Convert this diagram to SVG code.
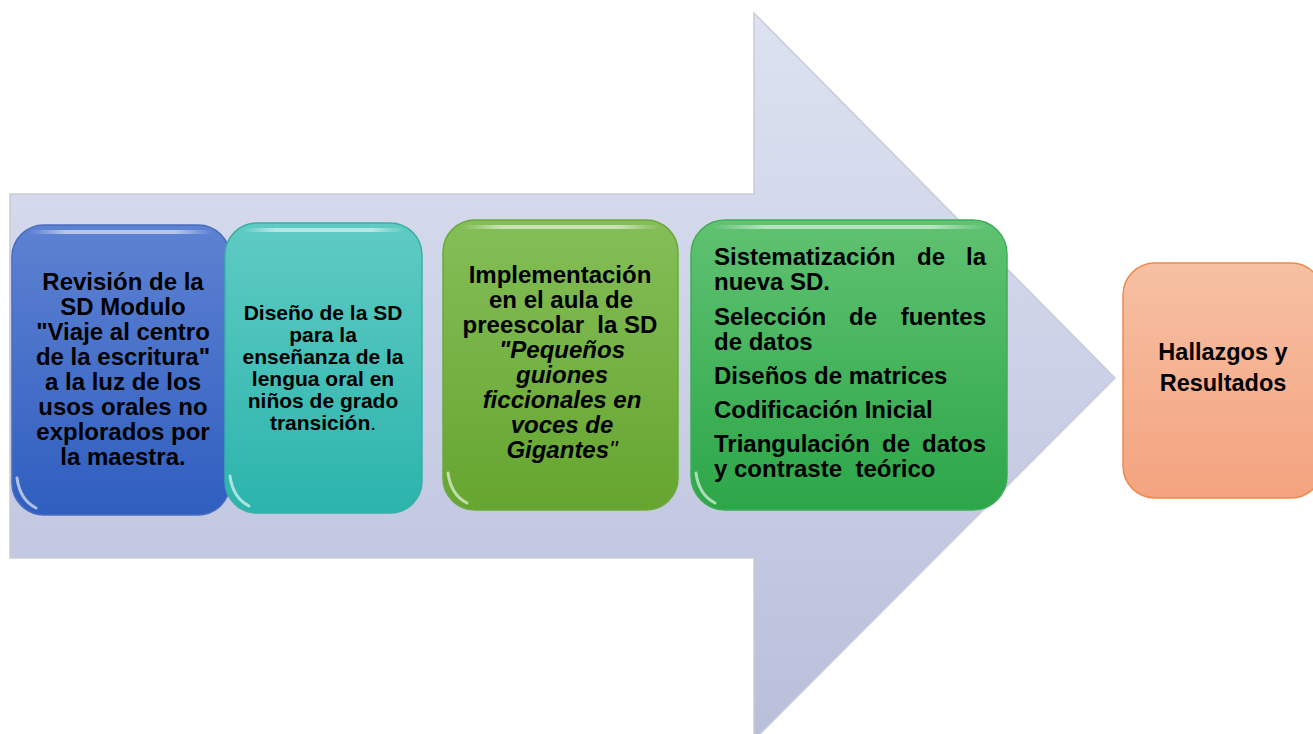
<svg xmlns="http://www.w3.org/2000/svg" width="1313" height="734" viewBox="0 0 1313 734">
<defs>
<linearGradient id="gArrow" x1="0" y1="0" x2="0" y2="1">
<stop offset="0" stop-color="#DDE2F1"/><stop offset="1" stop-color="#B9BFDB"/>
</linearGradient>
<linearGradient id="gBlue" x1="0" y1="0" x2="0" y2="1">
<stop offset="0" stop-color="#5E82D2"/><stop offset="1" stop-color="#2F5EBF"/>
</linearGradient>
<linearGradient id="gTeal" x1="0" y1="0" x2="0" y2="1">
<stop offset="0" stop-color="#5FCBC3"/><stop offset="1" stop-color="#2BB4AC"/>
</linearGradient>
<linearGradient id="gLime" x1="0" y1="0" x2="0" y2="1">
<stop offset="0" stop-color="#84BE58"/><stop offset="1" stop-color="#66A52F"/>
</linearGradient>
<linearGradient id="gGreen" x1="0" y1="0" x2="0" y2="1">
<stop offset="0" stop-color="#60C272"/><stop offset="1" stop-color="#2CA648"/>
</linearGradient>
<linearGradient id="gOrange" x1="0" y1="0" x2="0" y2="1">
<stop offset="0" stop-color="#F6C0A3"/><stop offset="1" stop-color="#F4A37F"/>
</linearGradient>
<linearGradient id="gShine" x1="0" y1="0" x2="1" y2="0">
<stop offset="0" stop-color="#FFFFFF" stop-opacity="0"/>
<stop offset="0.2" stop-color="#FFFFFF" stop-opacity="0.55"/>
<stop offset="0.8" stop-color="#FFFFFF" stop-opacity="0.55"/>
<stop offset="1" stop-color="#FFFFFF" stop-opacity="0"/>
</linearGradient>
</defs>
<style>
.t{font-family:"Liberation Sans",Arial,sans-serif;font-weight:bold;fill:#000;}
.c{text-anchor:middle;}
.m{text-anchor:middle;}
.e{text-anchor:end;}
.i{font-style:italic;}
.box{stroke-width:1.5;}
.shine{fill:url(#gShine);}
.arc{fill:none;stroke:#FFFFFF;stroke-width:3;stroke-opacity:0.6;stroke-linecap:round;}
</style>
<rect width="1313" height="734" fill="#FFFFFF"/>
<g id="connectors">
<path d="M10,194 L754,194 L754,13 L1115,378 L754,740 L754,558 L10,558 Z" fill="url(#gArrow)" stroke="#C9CCD8" stroke-width="1.5"/>
</g>
<g id="node1" class="t c" font-size="24">
<rect class="box" x="12" y="225" width="218" height="290" rx="32" fill="url(#gBlue)" stroke="#4A6CC0"/>
<rect class="shine" x="30" y="230" width="182" height="4" rx="2"/>
<path class="arc" d="M17,478 Q20,500 36,508"/>
<text x="123" y="290">Revisión de la</text>
<text x="123" y="315">SD Modulo</text>
<text x="123" y="340">"Viaje al centro</text>
<text x="123" y="365">de la escritura"</text>
<text x="123" y="390">a la luz de los</text>
<text x="123" y="415">usos orales no</text>
<text x="123" y="440">explorados por</text>
<text x="123" y="465">la maestra.</text>
</g>
<g id="node2" class="t c" font-size="21">
<rect class="box" x="225" y="223" width="197" height="290" rx="32" fill="url(#gTeal)" stroke="#3AAFA8"/>
<rect class="shine" x="243" y="228" width="161" height="4" rx="2"/>
<path class="arc" d="M230,476 Q233,498 249,506"/>
<text x="323" y="320">Diseño de la SD</text>
<text x="323" y="342">para la</text>
<text x="323" y="364">enseñanza de la</text>
<text x="323" y="386">lengua oral en</text>
<text x="323" y="408">niños de grado</text>
<text x="323" y="430">transición<tspan font-weight="normal">.</tspan></text>
</g>
<g id="node3" class="t c" font-size="24">
<rect class="box" x="443" y="220" width="235" height="290" rx="32" fill="url(#gLime)" stroke="#6CA93A"/>
<rect class="shine" x="461" y="225" width="199" height="4" rx="2"/>
<path class="arc" d="M448,473 Q451,495 467,503"/>
<text x="560" y="283">Implementación</text>
<text x="561" y="308">en el aula de</text>
<text x="560" y="333">preescolar&#160; la SD</text>
<text class="i" x="562" y="358">"Pequeños</text>
<text class="i" x="562" y="383">guiones</text>
<text class="i" x="562" y="408">ficcionales en</text>
<text class="i" x="562" y="433">voces de</text>
<text class="i" x="562" y="458">Gigantes<tspan font-weight="normal">"</tspan></text>
</g>
<g id="node4" class="t" font-size="24">
<rect class="box" x="691" y="220" width="316" height="290" rx="34" fill="url(#gGreen)" stroke="#3DAE57"/>
<rect class="shine" x="711" y="225" width="276" height="4" rx="2"/>
<path class="arc" d="M696,473 Q699,495 715,503"/>
<text x="714" y="265">Sistematización</text>
<text class="m" x="931" y="265">de</text>
<text class="e" x="986" y="265">la</text>
<text x="714" y="290">nueva SD.</text>
<text x="714" y="325">Selección</text>
<text class="m" x="863" y="325">de</text>
<text class="e" x="986" y="325">fuentes</text>
<text x="714" y="350">de datos</text>
<text x="714" y="384">Diseños de matrices</text>
<text x="714" y="418">Codificación Inicial</text>
<text x="714" y="452">Triangulación</text>
<text class="m" x="896" y="452">de</text>
<text class="e" x="986" y="452">datos</text>
<text x="714" y="477">y contraste&#160; teórico</text>
</g>
<g id="node5" class="t c" font-size="23.5">
<rect class="box" x="1123" y="263" width="200" height="235" rx="32" fill="url(#gOrange)" stroke="#EE8A4E"/>
<text x="1223" y="360">Hallazgos y</text>
<text x="1223" y="391">Resultados</text>
</g>
</svg>
